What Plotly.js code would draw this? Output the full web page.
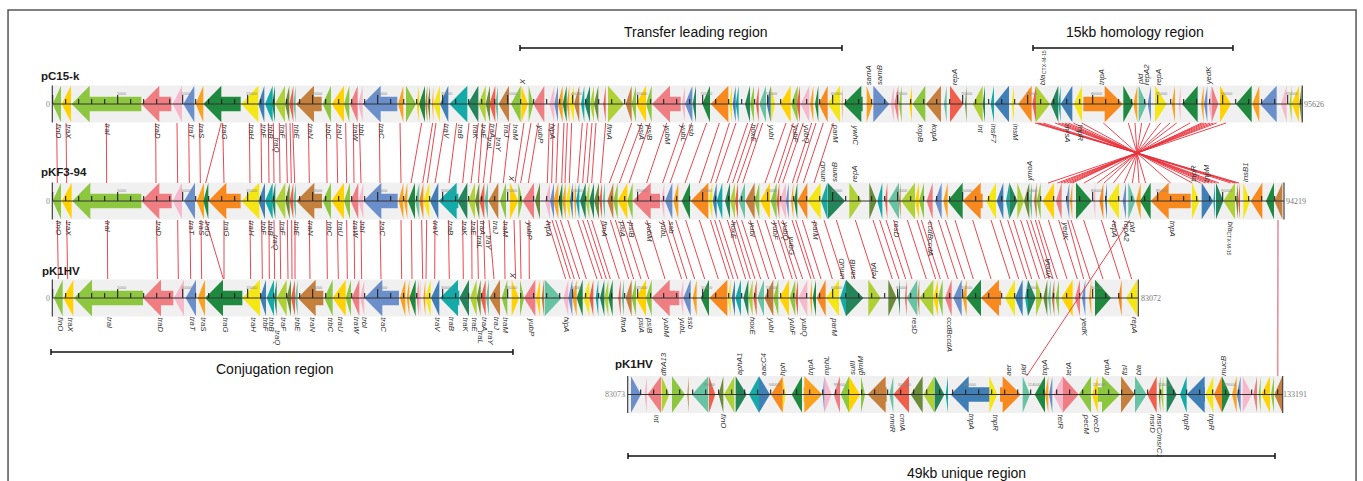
<!DOCTYPE html>
<html><head><meta charset="utf-8">
<script src="https://cdn.plot.ly/plotly-3.0.1.min.js"></script>
<style>html,body{margin:0;padding:0;background:#fff}#c{width:1363px;height:481px}</style></head>
<body><div id="c"></div>
<script>
/* Map units: 3 units = 1 px of the figure. Each segment array is relative to a base. */
const palette={g:'#8dc63f',l:'#afd136',d:'#ffd200',y:'#f5e616',s:'#ef7d82',p:'#f7b8cb',b:'#6a8fcb',o:'#f7891f',a:'#faa21b',k:'#1f8a3f',t:'#14aaa8',m:'#68c3a3',n:'#c4803c',e:'#3f7fb5',r:'#f05f4c',v:'#6a8c3a',f:'#24845a'};

const track1A=[[158,183,'L','g'],[185,213,'L','d'],[215,424,'L','g'],[424,514,'L','s'],[518,546,'L','p'],[550,583,'L','b'],[587,610,'L','a'],[610,722,'L','k'],[724,775,'L','y'],[775,793,'L','e'],[795,818,'L','t'],[816,825,'L','f'],[825,855,'L','l'],[855,868,'L','v'],[868,880,'L','r'],[880,887,'L','m'],[888,965,'L','n'],[968,993,'L','g'],[995,1032,'L','d'],[1032,1048,'L','g'],[1050,1073,'L','s'],[1075,1088,'L','p'],[1088,1192,'L','b'],[1194,1210,'L','a'],[1218,1248,'R','g'],[1250,1257,'L','d'],[1257,1275,'L','k'],[1275,1282,'L','n'],[1283,1290,'L','v'],[1296,1300,'L','a'],[1300,1320,'L','y'],[1320,1345,'L','e']];
const track1B=[[-2,52,'L','t'],[53,85,'L','f'],[85,107,'L','l'],[107,120,'L','v'],[118,136,'L','r'],[136,144,'L','m'],[146,177,'L','n'],[183,212,'L','g'],[214,234,'R','d'],[236,250,'R','g'],[250,283,'L','s'],[298,313,'L','p'],[313,324,'L','b'],[323,338,'L','a'],[338,350,'L','k'],[350,358,'L','a'],[358,372,'L','y'],[372,388,'L','n'],[393,403,'L','t'],[404,420,'L','f'],[420,432,'L','l'],[432,445,'L','v'],[460,467,'L','r'],[474,522,'R','l'],[527,545,'L','n'],[545,558,'L','g'],[558,588,'L','d'],[588,605,'L','g'],[606,692,'L','s'],[695,705,'L','p'],[705,727,'L','b'],[728,738,'L','f'],[757,780,'L','k'],[782,835,'L','o'],[838,846,'L','y'],[848,857,'L','e'],[857,866,'L','t'],[885,900,'L','f'],[900,912,'L','g'],[918,926,'L','r'],[928,948,'L','m'],[950,962,'L','e'],[963,975,'R','y'],[990,1022,'L','d'],[1023,1043,'L','g'],[1040,1050,'L','r'],[1052,1078,'L','p'],[1080,1090,'L','a'],[1095,1105,'L','k'],[1106,1133,'L','o'],[1133,1170,'L','y'],[1175,1178,'L','a'],[1180,1238,'L','k'],[1250,1268,'R','a'],[1270,1318,'R','b'],[1322,1332,'L','p'],[1333,1345,'L','s'],[1347,1355,'L','g']];
const track1C=[[28,36,'L','d'],[38,76,'L','g'],[78,123,'L','n'],[132,140,'L','m'],[150,190,'R','r'],[195,200,'L','v'],[218,248,'L','l'],[248,255,'L','f'],[272,282,'L','t'],[283,327,'L','e'],[335,342,'L','y'],[355,395,'L','o'],[397,408,'L','r'],[408,450,'R','l'],[452,475,'L','f'],[475,482,'L','t'],[482,517,'L','e'],[522,546,'L','y'],[550,668,'R','o'],[670,700,'R','k'],[700,712,'L','a'],[716,740,'R','m'],[743,753,'L','b'],[765,800,'R','y'],[815,825,'L','a'],[836,842,'L','p'],[846,893,'L','k'],[903,911,'L','a'],[912,922,'L','b'],[925,935,'L','p'],[935,955,'R','s'],[960,993,'R','d'],[1008,1055,'L','k'],[1057,1078,'L','a'],[1080,1130,'L','b'],[1143,1160,'L','p'],[1168,1175,'L','l'],[1175,1197,'L','d'],[1198,1205,'L','v']];

const track2A=[[158,183,'L','g'],[185,215,'L','d'],[217,424,'L','g'],[424,515,'L','s'],[518,546,'L','p'],[552,585,'L','b'],[590,612,'L','a'],[610,625,'L','k'],[625,722,'L','o'],[724,778,'L','y'],[775,795,'L','e'],[795,818,'L','t'],[816,826,'L','f'],[826,856,'L','l'],[856,869,'L','v'],[869,880,'L','r'],[880,888,'L','m'],[889,966,'L','n'],[968,993,'L','g'],[994,1032,'L','d'],[1032,1050,'L','g'],[1052,1075,'L','s'],[1076,1090,'L','p'],[1090,1193,'L','b'],[1196,1210,'L','a'],[1212,1222,'L','a'],[1224,1245,'L','k'],[1245,1258,'L','m'],[1258,1270,'L','o'],[1270,1288,'L','y'],[1290,1315,'L','e'],[1316,1375,'L','t']];
const track2B=[[22,52,'L','f'],[55,75,'L','l'],[75,88,'L','v'],[88,103,'L','r'],[103,114,'L','m'],[115,145,'L','n'],[150,168,'L','g'],[180,205,'R','d'],[205,218,'R','g'],[218,252,'L','s'],[255,270,'L','v'],[285,300,'L','p'],[300,312,'L','b'],[310,325,'L','a'],[325,337,'L','k'],[337,347,'L','a'],[347,360,'L','y'],[360,368,'L','e'],[372,378,'L','a'],[378,388,'L','t'],[390,407,'L','f'],[407,418,'L','l'],[418,432,'L','f'],[432,447,'L','v'],[448,456,'L','r'],[458,465,'L','m'],[472,490,'L','n'],[490,503,'L','g'],[503,532,'L','d'],[532,548,'L','g'],[548,630,'L','s'],[633,643,'L','p'],[645,667,'L','b'],[670,685,'L','a'],[695,720,'L','k'],[722,775,'L','o'],[776,787,'L','y'],[788,800,'L','e'],[800,817,'L','t'],[825,840,'L','f'],[840,855,'L','l'],[855,864,'L','r'],[866,885,'L','m'],[886,914,'L','n'],[914,928,'L','g'],[930,960,'L','d'],[962,980,'L','g'],[980,988,'L','r'],[988,1008,'L','p'],[1008,1016,'L','b'],[1023,1030,'L','a'],[1032,1042,'L','k'],[1042,1072,'L','o'],[1072,1112,'L','y'],[1113,1132,'L','t'],[1133,1185,'R','f'],[1198,1235,'R','l'],[1258,1280,'R','v'],[1282,1297,'L','t'],[1305,1312,'L','r'],[1315,1347,'L','m'],[1347,1352,'L','n']];
const track2C=[[3,45,'L','l'],[45,57,'L','d'],[57,72,'L','g'],[80,98,'L','s'],[105,125,'L','b'],[130,143,'L','a'],[143,188,'L','k'],[188,248,'L','o'],[258,288,'L','y'],[290,310,'L','e'],[318,328,'L','t'],[328,352,'R','f'],[352,372,'R','l'],[372,388,'L','v'],[388,396,'L','m'],[402,410,'L','n'],[410,422,'L','g'],[428,462,'L','d'],[468,485,'L','s'],[498,508,'L','b'],[510,517,'L','a'],[528,575,'R','k'],[580,586,'L','p'],[598,610,'L','o'],[615,621,'L','e'],[622,657,'L','y'],[668,678,'L','b'],[685,706,'R','m'],[708,722,'L','a'],[720,752,'L','k'],[752,872,'L','o'],[876,898,'R','y'],[905,940,'R','e'],[940,945,'L','t'],[948,970,'R','f'],[970,1005,'L','l'],[1008,1014,'L','v'],[1014,1020,'L','r'],[1030,1050,'R','y'],[1052,1087,'L','o'],[1098,1122,'L','k'],[1123,1147,'L','n']];

const track3A=[[162,188,'L','g'],[190,220,'L','d'],[222,429,'L','g'],[429,520,'L','s'],[522,552,'L','p'],[557,588,'L','b'],[593,615,'L','a'],[615,727,'L','k'],[727,780,'L','y'],[780,798,'L','e'],[800,822,'L','t'],[822,830,'L','f'],[830,860,'L','l'],[860,873,'L','v'],[873,885,'L','r'],[885,893,'L','m'],[893,970,'L','n'],[973,998,'L','g'],[998,1037,'L','d'],[1037,1053,'L','g'],[1055,1078,'L','s'],[1080,1093,'L','p'],[1093,1197,'L','b'],[1200,1216,'L','a'],[1220,1228,'L','a'],[1228,1247,'L','k'],[1250,1256,'L','s'],[1256,1262,'L','p'],[1270,1276,'L','a'],[1276,1292,'L','y'],[1293,1318,'L','e'],[1320,1378,'L','t']];
const track3B=[[28,57,'L','f'],[60,80,'L','l'],[80,92,'L','v'],[92,107,'L','r'],[108,117,'L','m'],[118,150,'L','n'],[155,172,'L','g'],[185,207,'R','d'],[210,222,'R','g'],[222,256,'L','s'],[258,270,'L','d'],[275,282,'L','n'],[284,335,'R','m'],[340,355,'L','p'],[355,367,'L','b'],[367,380,'L','a'],[380,398,'L','k'],[400,418,'L','y'],[418,430,'L','r'],[437,445,'L','t'],[450,463,'L','f'],[463,475,'L','l'],[475,488,'L','k'],[505,512,'L','r'],[515,522,'L','m'],[527,545,'L','n'],[545,558,'L','g'],[558,588,'L','d'],[588,605,'L','g'],[605,688,'L','s'],[690,700,'L','p'],[700,722,'L','b'],[728,740,'L','a'],[752,777,'L','k'],[778,832,'L','o'],[833,842,'L','y'],[845,855,'L','e'],[856,873,'L','t'],[880,895,'L','f'],[895,908,'L','l'],[910,920,'L','r'],[922,942,'L','m'],[943,970,'L','n'],[970,985,'L','g'],[988,1017,'L','d'],[1019,1036,'L','g'],[1036,1044,'L','r'],[1045,1072,'L','p'],[1080,1086,'L','a'],[1088,1098,'L','k'],[1100,1127,'L','o'],[1128,1167,'L','y'],[1170,1188,'L','t'],[1188,1240,'R','f'],[1255,1292,'R','l'],[1315,1340,'R','v'],[1345,1350,'L','f'],[1365,1370,'L','r']];
const track3C=[[15,20,'L','r'],[20,52,'L','m'],[52,58,'L','n'],[58,100,'L','l'],[100,114,'L','d'],[114,128,'L','g'],[135,155,'L','s'],[160,185,'L','b'],[188,200,'L','a'],[198,243,'L','k'],[243,303,'L','o'],[315,345,'L','y'],[345,368,'L','e'],[375,384,'L','t'],[384,407,'R','f'],[408,428,'R','l'],[430,442,'L','v'],[444,452,'L','m'],[455,463,'L','n'],[467,477,'L','g'],[484,518,'L','d'],[525,540,'L','s'],[546,556,'L','b'],[567,574,'L','a'],[585,633,'R','k'],[655,665,'L','o'],[678,712,'L','y']];

const track4A=[[93,123,'R','b'],[133,141,'L','p'],[143,183,'L','s'],[185,208,'R','l'],[216,255,'R','g'],[262,266,'L','n'],[276,325,'L','m'],[327,346,'R','r'],[356,370,'L','v'],[372,403,'L','l'],[407,440,'R','f'],[447,477,'L','t'],[477,510,'R','e'],[513,548,'L','o'],[548,557,'R','y'],[575,606,'L','k'],[611,667,'R','a'],[668,673,'L','b'],[673,695,'R','p'],[701,720,'L','s'],[722,747,'L','g'],[747,780,'R','d'],[783,795,'R','g'],[803,860,'L','n'],[868,880,'L','m'],[880,927,'L','r'],[932,968,'L','v'],[970,1003,'L','l'],[1004,1033,'R','f'],[1037,1044,'L','t'],[1052,1168,'L','e']];
const track4B=[[88,112,'R','y'],[120,182,'R','o'],[188,210,'R','m'],[224,255,'L','k'],[255,265,'L','a'],[267,277,'L','b'],[280,308,'L','p'],[308,356,'R','s'],[356,393,'L','g'],[396,413,'L','d'],[413,480,'R','g'],[483,524,'R','n'],[525,560,'R','m'],[562,590,'L','r'],[596,601,'L','v'],[603,610,'L','l'],[620,650,'R','f'],[660,680,'L','t'],[680,735,'L','e'],[736,760,'L','y'],[762,786,'L','o'],[786,810,'R','k'],[816,830,'L','a'],[830,842,'L','b'],[848,876,'R','p'],[880,891,'L','s'],[896,902,'L','g'],[904,930,'L','d'],[933,942,'L','g'],[943,967,'L','n']];

/* homologous links: [upper position, lower position] */
const links12A=[[170,172],[198,200],[319,320],[467,468],[531,533],[566,568],[599,601],[664,617],[668,672],[748,750],[783,785],[805,807],[820,822],[838,840],[858,862],[870,874],[878,884],[925,928],[979,981],[1010,1013],[1037,1040],[1060,1062],[1078,1083],[1138,1140],[1200,1203],[1265,1233],[1298,1268],[1308,1282],[1335,1305],[1370,1347]];
const links12B=[[57,38],[85,63],[98,85],[120,100],[140,120],[180,160],[222,195],[243,212],[265,235],[298,292],[310,305],[325,318],[342,335],[352,345],[365,358],[397,383],[412,398],[426,412],[438,425],[467,452],[545,478],[575,508],[600,537],[650,590],[700,638],[725,660],[770,705],[808,748],[838,782],[858,797],[893,832],[908,848],[925,862],[938,878],[1008,945],[1030,972],[1045,985],[1060,998],[1085,1027],[1098,1040],[1120,1060],[1150,1092]];
const links12C=[[405,1017],[412,1010],[418,1004],[430,992],[465,957],[475,947],[485,937],[495,927],[505,917],[520,902],[545,877],[610,812],[685,737],[705,717],[725,697],[750,672],[782,640],[810,612],[830,592],[870,552],[905,517],[912,510],[920,502],[930,492],[940,482],[950,472],[978,444]];
const links23A=[[172,175],[200,203],[322,323],[470,472],[533,535],[570,572],[603,605],[617,670],[672,672],[750,752],[785,787],[807,808],[822,824],[840,842],[862,864],[875,876],[885,885],[928,930],[980,982],[1012,1015],[1040,1042],[1062,1064],[1083,1085],[1140,1143],[1203,1205],[1234,1236],[1265,1268],[1280,1278],[1305,1304],[1345,1348]];
const links23B=[[38,40],[65,66],[82,85],[100,105],[117,132],[163,165],[192,197],[210,213],[237,238],[292,347],[306,361],[317,373],[331,389],[353,409],[383,441],[398,456],[412,469],[425,481],[452,508],[481,536],[496,551],[517,573],[540,596],[590,645],[638,695],[656,711],[677,734],[707,764],[748,805],[781,837],[794,850],[808,864],[832,887],[847,901],[859,915],[875,932],[900,956],[921,977],[945,1002],[971,1027],[984,1040],[998,1058],[1026,1083],[1037,1093],[1057,1113],[1092,1147],[1122,1179],[1159,1214],[1216,1273],[1269,1327],[1289,1347],[1308,1367],[1331,1386]];
const links23C=[[22,79],[51,107],[64,121],[89,145],[115,172],[136,194],[165,220],[218,273],[273,330],[300,356],[323,380],[340,395],[362,418],[380,436],[392,448],[406,459],[416,472],[445,501],[476,532],[503,551],[513,570],[551,609],[604,660],[640,695]];
const crossLink=[3390,3080];
const endLink=[3834,3833];

/* labels: [position, text, lower row?]; 'a|b' draws b as a small subscript after a */
const lab1A=[[177,'finO'],[205,'traX'],[325,'traI'],[473,'traD'],[573,'traT'],[605,'traS'],[672,'traG'],[753,'traH'],[790,'trbF'],[812,'trbB'],[828,'traQ',1],[846,'traF'],[888,'trbE'],[932,'traN'],[985,'trbC'],[1018,'traU'],[1065,'traW'],[1085,'trbI'],[1145,'traC'],[1340,'traV']];
const lab1B=[[32,'traB'],[75,'traK'],[100,'traE'],[130,'traA'],[118,'traL',1],[145,'traY',1],[168,'traJ'],[197,'traM'],[272,'yubP'],[310,'hipA'],[480,'flmA'],[577,'psiA'],[600,'psiB'],[652,'yubM'],[702,'yubL'],[724,'ssb'],[910,'hoxE'],[965,'yubI'],[1038,'yubF'],[1072,'yubQ'],[1157,'parM'],[1215,'ywhC']];
const lab1C=[[62,'kopB'],[105,'kopA'],[240,'int'],[283,'insF7'],[347,'insM'],[503,'mrsA'],[540,'tnpR']];
const top1B=[[218,'X'],[1255,'samA'],[1287,'samB']];
const top1C=[[163,'repA'],[428,'bla|CTX-M-15'],[603,'tnpA'],[720,'pld'],[740,'repA2'],[775,'repA'],[925,'yedK']];
const lab2A=[[178,'finO'],[205,'traX'],[325,'traI'],[475,'traD'],[575,'traT'],[605,'traS'],[622,'traG'],[678,'traG'],[755,'traH'],[790,'trbF'],[812,'trbB'],[827,'traQ',1],[846,'traF'],[888,'trbE'],[932,'traN'],[987,'trbC'],[1020,'traU'],[1067,'traW'],[1088,'trbI'],[1147,'traC'],[1307,'traV'],[1353,'traB']];
const lab2B=[[43,'traK'],[70,'traE'],[100,'traA'],[87,'traL',1],[115,'traY',1],[137,'traJ'],[167,'traM'],[240,'yubP'],[297,'hipA'],[465,'flmA'],[520,'psiA'],[545,'psiB'],[597,'yubM'],[643,'yubL'],[663,'ssb'],[850,'hoxE'],[907,'yubI'],[977,'yubF'],[1008,'yubQ'],[1025,'yubG',1],[1097,'parM'],[1340,'resD']];
const lab2C=[[90,'ccdBccdA'],[497,'yedK'],[645,'repA'],[680,'repA2'],[700,'pld'],[820,'tnpA'],[990,'bla|CTX-M-15']];
const top2B=[[185,'X'],[1117,'umuD'],[1152,'samB'],[1212,'repA']];
const top2C=[[388,'ymoA'],[880,'tnpR'],[918,'tnpM'],[1035,'insB1']];
const lab3A=[[183,'finO'],[210,'traX'],[330,'traI'],[480,'traD'],[578,'traT'],[610,'traS'],[675,'traG'],[760,'traH'],[795,'trbF'],[815,'trbB'],[832,'traQ',1],[850,'traF'],[892,'trbE'],[937,'traN'],[990,'trbC'],[1022,'traU'],[1070,'traW'],[1095,'trbI'],[1150,'traC'],[1312,'traV'],[1357,'traB']];
const lab3B=[[45,'traK'],[72,'traE'],[105,'traA'],[90,'traL',1],[120,'traY',1],[140,'traJ'],[167,'traM'],[245,'yubP'],[352,'hipA'],[522,'flmA'],[577,'psiA'],[600,'psiB'],[650,'yubM'],[700,'yubL'],[722,'ssb'],[908,'hoxE'],[965,'yubI'],[1030,'yubF'],[1065,'yubQ'],[1153,'parM']];
const lab3C=[[42,'resD'],[148,'ccdBccdA'],[555,'yedK'],[705,'repA']];
const top3B=[[188,'X'],[1175,'umuD'],[1207,'samB'],[1268,'repA']];
const top3C=[[443,'ymoA']];
const lab4A=[[168,'int'],[372,'finO'],[878,'nmtR'],[908,'cmlA'],[1117,'tnpA']];
const lab4B=[[105,'tnpR'],[300,'tetR'],[380,'pecM'],[410,'yecD'],[577,'msrD'],[600,'msrC/msrC1'],[680,'tnpR'],[755,'tnpR']];
const top4A=[[190,'dfrA13'],[418,'aphA1'],[488,'aacC4'],[545,'hph'],[632,'tnpA'],[680,'mphL'],[756,'sulII'],[782,'glmM']];
const top4B=[[145,'aer'],[190,'pld'],[252,'tnpA'],[325,'tetA'],[440,'tnpA'],[493,'ftsI'],[535,'bla'],[790,'mucB']];
const trackNames=['pC15-k','pKF3-94','pK1HV','pK1HV'];
const endLabels=['95626','94219','83072','133191'];
const regionNames=['Transfer leading region','15kb homology region','Conjugation region','49kb unique region'];

const tracks=[
 {y:104,x0:155,x1:3908,seg:[[0,track1A],[1350,track1B],[2700,track1C]],t0:158,tall:158,below:[[0,lab1A],[1350,lab1B],[2700,lab1C]],above:[[1350,top1B],[2700,top1C]],yb:124,yl:137,name:[123,76],end:3912,start:'0'},
 {y:201,x0:155,x1:3853,seg:[[0,track2A],[1350,track2B],[2700,track2C]],t0:158,tall:158,below:[[0,lab2A],[1350,lab2B],[2700,lab2C]],above:[[1350,top2B],[2700,top2C]],yb:221,yl:235,name:[123,172],end:3858,start:'0'},
 {y:298,x0:155,x1:3416,seg:[[0,track3A],[1350,track3B],[2700,track3C]],t0:158,tall:158,below:[[0,lab3A],[1350,lab3B],[2700,lab3C]],above:[[1350,top3B],[2700,top3C]],yb:317,yl:330,name:[126,271],end:3423,start:'0'},
 {y:394.5,x0:1881,x1:3849,seg:[[1800,track4A],[2880,track4B]],t0:1922,tall:2116,below:[[1800,lab4A],[2880,lab4B]],above:[[1800,top4A],[2880,top4B]],yb:414,yl:428,name:[1846,364],end:3850,start:'83073'}
];

const HEAD=54, HALF=18.3, BODY=7.3;
const LABEL={size:7.8,color:'#333',family:'Liberation Sans'}, SUB={size:5.2,color:'#333',family:'Liberation Sans'};
const polys={};
Object.keys(palette).forEach(k=>polys[k]={x:[],y:[]});
function glyph(a,b,dir,k,y){
  const p=polys[k], tip=dir==='L'?a:b, base=dir==='L'?a+HEAD:b-HEAD, tail=dir==='L'?b:a;
  if(b-a<=HEAD){
    p.x.push(tip,tail,tail,tip,null); p.y.push(y,y-HALF,y+HALF,y,null);
  }else{
    p.x.push(tip,base,base,tail,tail,base,base,tip,null);
    p.y.push(y,y-HALF,y-BODY,y-BODY,y+BODY,y+BODY,y+HALF,y,null);
  }
}
const ann=[], shapes=[];
function geneLabel(x,y,text,angle){
  const down=angle>0, parts=text.split('|');
  ann.push({x:x,y:y,text:'<i>'+parts[0]+'</i>',textangle:angle,yanchor:down?'top':'bottom',xanchor:'center',font:LABEL});
  if(parts[1]) ann.push({x:x+(down?-3:3),y:y+(down?10.5:-10.5),text:parts[1],textangle:angle,yanchor:down?'top':'bottom',xanchor:'center',font:SUB});
}
const axX=[],axY=[],tkX=[],tkY=[],tlX=[],tlY=[],tlT=[],barX=[],barY=[];
const TOP=18.5;
tracks.forEach((t,idx)=>{
  shapes.push({type:'rect',layer:'below',xref:'x',yref:'y',x0:t.x0,x1:t.x1,y0:t.y-TOP,y1:t.y+TOP,fillcolor:'#f0f0f0',line:{width:0}});
  t.seg.forEach(([base,list])=>list.forEach(g=>glyph(g[0]+base,g[1]+base,g[2],g[3],t.y)));
  axX.push(t.x0+2,t.x1,null); axY.push(t.y,t.y,null);
  barX.push(t.x0+2,t.x0+2,null); barY.push(t.y-TOP,t.y+TOP,null);
  barX.push(t.x1-1,t.x1-1,null); barY.push(t.y-TOP,t.y+TOP,null);
  // ruler: a tick each 1000 bp (39 units), a tall one each 5000 bp
  for(let x=t.t0;x<t.x1;x+=39){
    const big=((x-t.tall)%195)===0;
    tkX.push(x,x,null); tkY.push(t.y,t.y-(big?9:5),null);
  }
  let c=5000;
  for(let x=t.tall+(idx===3?0:195);x<t.x1-30;x+=195){
    tlX.push(x+12);tlY.push(t.y-10);tlT.push(String(idx===3?(c+84000):c));c+=5000;
  }
  t.below.forEach(([base,list])=>list.forEach(l=>geneLabel(l[0]+base,l[2]?t.yl:t.yb,l[1],90)));
  t.above.forEach(([base,list])=>list.forEach(l=>geneLabel(l[0]+base,t.y-TOP-0.5,l[1],-90)));
  ann.push({x:t.name[0],y:t.name[1],text:'<b>'+trackNames[idx]+'</b>',xanchor:'left',yanchor:'middle',font:{size:11.5,color:'#1a1a1a',family:'Liberation Sans'}});
  ann.push({x:t.end,y:t.y,text:endLabels[idx],xanchor:'left',yanchor:'middle',font:{size:8,color:'#777',family:'Liberation Serif'}});
  ann.push({x:t.x0-6,y:t.y,text:t.start,xanchor:'right',yanchor:'middle',font:{size:8,color:'#888',family:'Liberation Serif'}});
});

// brackets: from, to, y, title position
const brackets=[[1560,2526,48,2085,32],[3099,3699,48,3405,32],[153,1539,352,825,369],[1884,3825,456,2900,473]];
const brX=[],brY=[];
brackets.forEach((b,j)=>{
  brX.push(b[0],b[1],null,b[0],b[0],null,b[1],b[1],null);
  brY.push(b[2],b[2],null,b[2]-3,b[2]+3,null,b[2]-3,b[2]+3,null);
  ann.push({x:b[3],y:b[4],text:regionNames[j],xanchor:'center',yanchor:'middle',font:{size:14,color:'#111',family:'Liberation Sans'}});
});
ann.forEach(a=>{a.showarrow=false;a.xref='x';a.yref='y';a.borderpad=0;a.borderwidth=0;});

// links
const lkX=[],lkY=[];
function addLinks(list,base,y0,y1){list.forEach(l=>{lkX.push(l[0]+base,l[1]+base,null);lkY.push(y0,y1,null);});}
addLinks(links12A,0,123,183);addLinks(links12B,1350,123,183);addLinks(links12C,2700,123,183);
addLinks(links23A,0,220,279);addLinks(links23B,1350,220,279);addLinks(links23C,2700,220,279);

const traces=[];
traces.push({x:lkX,y:lkY,mode:'lines',line:{color:'#e8323c',width:0.9},hoverinfo:'skip'});
Object.keys(polys).forEach(k=>traces.push({x:polys[k].x,y:polys[k].y,mode:'lines',fill:'toself',fillcolor:palette[k],line:{width:0},hoverinfo:'skip'}));
traces.push({x:barX,y:barY,mode:'lines',line:{color:'#444',width:1.2},hoverinfo:'skip'});
traces.push({x:axX,y:axY,mode:'lines',line:{color:'#333',width:1},hoverinfo:'skip'});
traces.push({x:tkX,y:tkY,mode:'lines',line:{color:'#222',width:1.1},hoverinfo:'skip'});
traces.push({x:tlX,y:tlY,mode:'text',text:tlT,textfont:{size:4,color:'#888',family:'Liberation Sans'},hoverinfo:'skip'});
traces.push({x:crossLink,y:[220,376],mode:'lines',line:{color:'#e8323c',width:0.9},hoverinfo:'skip'});
traces.push({x:endLink,y:[220,376],mode:'lines',line:{color:'#e8909a',width:1.6},hoverinfo:'skip'});
traces.push({x:brX,y:brY,mode:'lines',line:{color:'#111',width:1.5},hoverinfo:'skip'});

shapes.push({type:'path',xref:'paper',yref:'paper',path:'M 0.0059 0 L 0.0059 0.979 L 0.9949 0.979 L 0.9949 0',line:{color:'#555',width:1.5}});

Plotly.newPlot('c',traces,{
  width:1363,height:481,margin:{l:0,r:0,t:0,b:0},showlegend:false,
  paper_bgcolor:'#fff',plot_bgcolor:'#fff',
  xaxis:{range:[0,4089],visible:false,fixedrange:true},
  yaxis:{range:[481,0],visible:false,fixedrange:true},
  shapes:shapes,annotations:ann
},{displayModeBar:false,staticPlot:true});
</script></body></html>
